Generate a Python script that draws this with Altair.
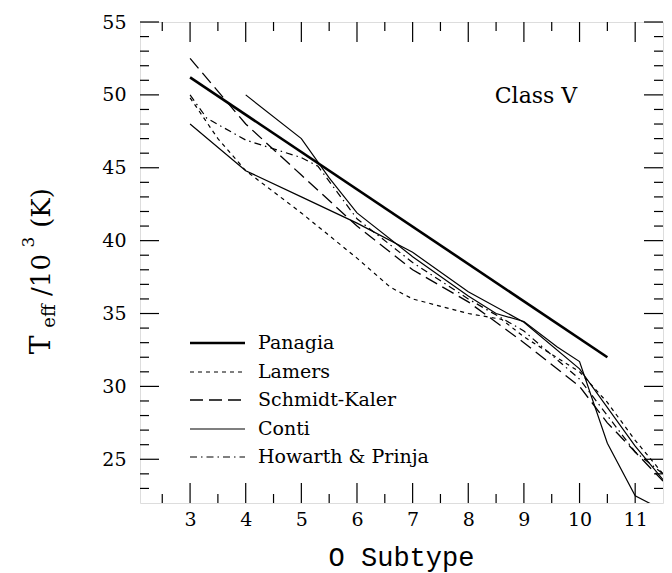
import altair as alt
import pandas as pd

# ---------------- data (O subtype, Teff / 10^3 K) ----------------
panagia_x = [3.0, 10.5]
panagia_y = [51.2, 32.0]

lamers_x = [3.0, 3.5, 4.0, 5.0, 6.0, 6.6, 7.0, 8.0, 8.6, 9.0, 10.0, 10.5, 11.0, 11.5]
lamers_y = [49.8, 47.0, 44.8, 41.9, 38.8, 36.8, 36.0, 35.0, 34.6, 33.4, 31.0, 28.9, 26.3, 24.0]

schmidt_x = [3.0, 4.0, 5.0, 6.0, 7.0, 8.0, 9.0, 10.0, 10.5, 11.0, 11.5]
schmidt_y = [52.5, 48.0, 44.5, 41.0, 38.0, 35.8, 33.0, 30.0, 27.5, 25.5, 23.5]

conti_a_x = [3.0, 4.0, 5.0, 6.0, 7.0, 8.0, 9.0, 10.0, 11.0, 11.5]
conti_a_y = [48.0, 44.8, 43.0, 41.2, 39.2, 36.5, 34.4, 31.2, 25.9, 23.6]

conti_b_x = [4.0, 5.0, 5.5, 6.0, 7.0, 8.0, 8.5, 9.0, 9.6, 10.0, 10.5, 11.0, 11.5]
conti_b_y = [50.0, 47.0, 44.3, 41.9, 38.9, 36.2, 35.0, 34.45, 32.7, 31.7, 26.1, 22.5, 21.5]

howarth_x = [3.0, 3.3, 4.0, 5.0, 5.3, 6.0, 7.0, 8.0, 9.0, 10.0, 10.5, 11.0, 11.5]
howarth_y = [50.0, 48.4, 46.9, 45.7, 45.1, 41.5, 38.5, 36.0, 33.8, 30.5, 28.0, 25.5, 24.0]

x_major = [3, 4, 5, 6, 7, 8, 9, 10, 11]
x_minor = [2.5, 3.5, 4.5, 5.5, 6.5, 7.5, 8.5, 9.5, 10.5]
y_major = [25, 30, 35, 40, 45, 50, 55]
y_minor = [v for v in range(23, 55) if v % 5 != 0]

legend_names = ["Panagia", "Lamers", "Schmidt-Kaler", "Conti", "Howarth & Prinja"]

# ---------------- layout / style ----------------
W, H = 523, 481
FONT = "DejaVu Serif"
xs = alt.Scale(domain=[2.1, 11.5], nice=False, zero=False)
ys = alt.Scale(domain=[22, 55], nice=False, zero=False)

xa = alt.Axis(values=x_major, ticks=False, domain=False, grid=False, title=None,
              labelFont=FONT, labelFontSize=19, labelColor="black", labelPadding=7,
              format="d", labelFlush=False)
ya = alt.Axis(values=y_major, ticks=False, domain=False, grid=False, title=None,
              labelFont=FONT, labelFontSize=19, labelColor="black", labelPadding=14,
              format="d", labelFlush=False)

X = lambda f: alt.X(f, scale=xs, axis=xa)
Y = lambda f: alt.Y(f, scale=ys, axis=ya)

styles = {
    "Panagia": dict(strokeWidth=2.6),
    "Lamers": dict(strokeWidth=1.2, strokeDash=[4, 4]),
    "Schmidt-Kaler": dict(strokeWidth=1.3, strokeDash=[13, 6]),
    "Conti": dict(strokeWidth=1.2),
    "Howarth & Prinja": dict(strokeWidth=1.2, strokeDash=[7, 4, 1.5, 4]),
}


def series(xv, yv, name):
    df = pd.DataFrame({"x": xv, "y": yv})
    return alt.Chart(df).mark_line(color="black", clip=True, **styles[name]).encode(
        x=X("x:Q"), y=Y("y:Q"))


layers = []

# inward ticks on all four sides
def xticks(vals, length):
    df = pd.DataFrame({"v": vals})
    bot = alt.Chart(df).mark_rule(color="black", strokeWidth=1.2).encode(
        x=X("v:Q"), y=alt.value(H), y2=alt.value(H - length))
    top = alt.Chart(df).mark_rule(color="black", strokeWidth=1.2).encode(
        x=X("v:Q"), y=alt.value(0), y2=alt.value(length))
    return [bot, top]


def yticks(vals, length):
    df = pd.DataFrame({"v": vals})
    left = alt.Chart(df).mark_rule(color="black", strokeWidth=1.2).encode(
        y=Y("v:Q"), x=alt.value(0), x2=alt.value(length))
    right = alt.Chart(df).mark_rule(color="black", strokeWidth=1.2).encode(
        y=Y("v:Q"), x=alt.value(W), x2=alt.value(W - length))
    return [left, right]


layers += xticks(x_major, 20) + xticks(x_minor, 9)
layers += yticks(y_major, 19) + yticks(y_minor, 9)

layers += [
    series(lamers_x, lamers_y, "Lamers"),
    series(schmidt_x, schmidt_y, "Schmidt-Kaler"),
    series(conti_a_x, conti_a_y, "Conti"),
    series(conti_b_x, conti_b_y, "Conti"),
    series(howarth_x, howarth_y, "Howarth & Prinja"),
    series(panagia_x, panagia_y, "Panagia"),
]

# legend inside the plot
row_y = [321, 350, 378, 407, 435]
for name, ry in zip(legend_names, row_y):
    d = pd.DataFrame({"label": [name]})
    layers.append(alt.Chart(d).mark_rule(color="black", **styles[name]).encode(
        x=alt.value(50), x2=alt.value(105), y=alt.value(ry)))
    layers.append(alt.Chart(d).mark_text(font=FONT, fontSize=19, align="left",
                                         baseline="middle", color="black").encode(
        text="label:N", x=alt.value(118), y=alt.value(ry)))

# annotation
layers.append(alt.Chart(pd.DataFrame({"t": ["Class V"]})).mark_text(
    font=FONT, fontSize=22, align="center", baseline="alphabetic", color="black").encode(
    text="t:N", x=alt.value(396), y=alt.value(81)))

# x title
layers.append(alt.Chart(pd.DataFrame({"t": ["O Subtype"]})).mark_text(
    font="Liberation Mono", fontSize=27, align="center", baseline="alphabetic",
    color="black").encode(text="t:N", x=alt.value(W / 2), y=alt.value(544)))

# y title, composed of parts (rotated): text, size, centre y (abs), baseline x (rel)
ytitle_parts = [
    ("T", 28, 345, -90),
    ("eff", 18, 316, -85),
    ("/10", 26, 275, -90),
    ("3", 17, 242, -106),
    ("(K)", 26, 208, -90),
]
for txt, fs, cy, bx in ytitle_parts:
    layers.append(alt.Chart(pd.DataFrame({"t": [txt]})).mark_text(
        font=FONT, fontSize=fs, angle=270, align="center", baseline="alphabetic",
        color="black").encode(text="t:N", x=alt.value(bx), y=alt.value(cy - 22)))

chart = alt.layer(*layers).properties(
    width=W, height=H,
    autosize=alt.AutoSizeParams(type="none"),
    padding={"left": 140, "top": 22, "right": 9, "bottom": 70},
).configure_view(stroke="black", strokeWidth=1.6).configure(background="white")

chart.save("out.html", embed_options={"renderer": "svg", "actions": False})
